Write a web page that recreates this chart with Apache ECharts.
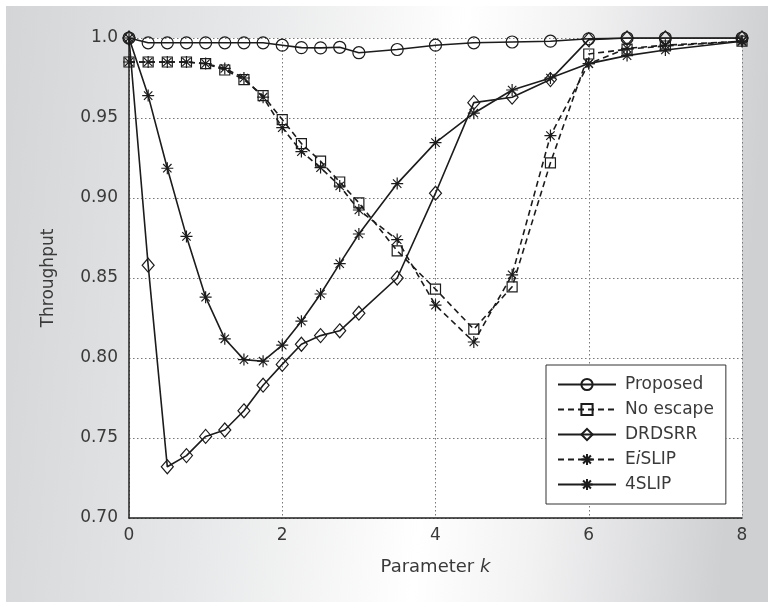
<!DOCTYPE html>
<html>
<head>
<meta charset="utf-8">
<script src="https://cdn.jsdelivr.net/npm/echarts@6/dist/echarts.min.js"></script>
<style>
  html, body { margin: 0; padding: 0; background: #fff; }
  #chart { width: 768px; height: 602px; }
</style>
</head>
<body>
<div id="chart"></div>
<script>
// x positions (parameter k)
const kValues = [0, 0.25, 0.5, 0.75, 1, 1.25, 1.5, 1.75, 2, 2.25, 2.5, 2.75, 3, 3.5, 4, 4.5, 5, 5.5, 6, 6.5, 7, 8]

const proposed = [1.0, 0.997, 0.997, 0.997, 0.997, 0.997, 0.997, 0.997, 0.9955, 0.994, 0.9938, 0.9942, 0.9908, 0.9928, 0.9955, 0.997, 0.9975, 0.998, 0.9995, 1.0, 1.0, 1.0]
const noEscape = [0.985, 0.985, 0.985, 0.985, 0.984, 0.980, 0.974, 0.964, 0.949, 0.934, 0.923, 0.910, 0.897, 0.867, 0.843, 0.818, 0.8445, 0.922, 0.990, 0.993, 0.995, 0.998]
const drdsrr = [1.0, 0.858, 0.732, 0.739, 0.751, 0.755, 0.767, 0.783, 0.796, 0.8086, 0.814, 0.817, 0.828, 0.850, 0.903, 0.9596, 0.963, 0.974, 0.999, 1.0, 1.0, 1.0]
const eislip = [0.985, 0.985, 0.985, 0.985, 0.984, 0.981, 0.975, 0.963, 0.944, 0.929, 0.919, 0.9075, 0.8925, 0.874, 0.833, 0.810, 0.852, 0.939, 0.984, 0.9935, 0.9955, 0.998]
const fourSlip = [1.0, 0.964, 0.9186, 0.876, 0.838, 0.812, 0.799, 0.798, 0.808, 0.823, 0.840, 0.859, 0.8775, 0.909, 0.9346, 0.953, 0.9675, 0.975, 0.984, 0.989, 0.9925, 0.998]

const xTicks = [0, 2, 4, 6, 8]
const yTicks = [0.70, 0.75, 0.80, 0.85, 0.90, 0.95, 1.0]

const ink = '#1c1c1c'
const textInk = '#3a3a3a'
const star = 'path://M0,-6L0,6M-6,0L6,0M-4.2,-4.2L4.2,4.2M-4.2,4.2L4.2,-4.2'
const font = '"DejaVu Sans", Verdana, sans-serif'

function pairs(ys) {
  return kValues.map((k, i) => [k, ys[i]])
}

function makeSeries(name, ys, symbol, size, dashed) {
  return {
    name,
    type: 'line',
    data: pairs(ys),
    symbol,
    symbolSize: size,
    showSymbol: true,
    lineStyle: { color: ink, width: 1.6, type: dashed ? [6, 4] : 'solid' },
    itemStyle: { color: 'rgba(0,0,0,0)', borderColor: ink, borderWidth: 1.2 },
    emphasis: { disabled: true },
    animation: false,
  }
}

const chart = echarts.init(document.getElementById('chart'))

const option = {
  backgroundColor: '#fff',
  textStyle: { fontFamily: font },
  graphic: [
    {
      type: 'rect',
      z: -10,
      shape: { x: 6, y: 6, width: 762, height: 596 },
      style: {
        fill: {
          type: 'linear', x: 0, y: 0, x2: 1, y2: 0.12,
          colorStops: [
            { offset: 0, color: '#d4d5d7' },
            { offset: 0.3, color: '#e6e7e8' },
            { offset: 0.6, color: '#ffffff' },
            { offset: 0.75, color: '#f2f2f3' },
            { offset: 1, color: '#cfd0d2' },
          ],
        },
      },
    },
  ],
  grid: {
    left: 129,
    right: 26,
    top: 38,
    bottom: 84,
    show: true,
    backgroundColor: '#fff',
    borderWidth: 0,
  },
  legend: {
    orient: 'vertical',
    left: 546,
    top: 365,
    padding: [11, 12, 11, 11],
    itemWidth: 58,
    itemHeight: 14,
    itemGap: 8,
    backgroundColor: '#fff',
    borderColor: '#333',
    borderWidth: 1,
    data: ['Proposed', 'No escape', 'DRDSRR', 'EiSLIP', '4SLIP'],
    formatter: name => (name === 'EiSLIP' ? 'E{i|i}SLIP' : name),
    textStyle: {
      color: textInk,
      fontSize: 17,
      fontFamily: font,
      padding: [0, 0, 0, 4],
      rich: {
        i: { fontStyle: 'italic', fontSize: 17, color: textInk, fontFamily: font },
      },
    },
  },
  xAxis: {
    type: 'value',
    min: 0,
    max: 8,
    interval: 2,
    name: 'Parameter {i|k}',
    nameLocation: 'middle',
    nameGap: 40,
    nameTextStyle: {
      color: textInk,
      fontSize: 18,
      fontFamily: font,
      rich: { i: { fontStyle: 'italic', fontSize: 18, color: textInk, fontFamily: font } },
    },
    axisLine: { show: true, onZero: false, lineStyle: { color: '#222', width: 1.5 } },
    axisTick: { show: false },
    axisLabel: {
      color: textInk,
      fontSize: 17,
      margin: 9,
      formatter: v => (xTicks.includes(v) ? String(v) : ''),
    },
    splitLine: { show: true, lineStyle: { color: '#777', width: 1, type: [1.5, 2.5] } },
  },
  yAxis: {
    type: 'value',
    min: 0.7,
    max: 1.0,
    interval: 0.05,
    name: 'Throughput',
    nameLocation: 'middle',
    nameRotate: 90,
    nameGap: 72,
    nameTextStyle: { color: textInk, fontSize: 17, fontFamily: font },
    axisLine: { show: true, onZero: false, lineStyle: { color: '#222', width: 1.5 } },
    axisTick: { show: false },
    axisLabel: {
      color: textInk,
      fontSize: 17,
      margin: 11,
      formatter: v => {
        const t = yTicks.find(y => Math.abs(y - v) < 1e-6)
        if (t === undefined) return ''
        return Math.abs(t - 1) < 1e-6 ? '1.0' : t.toFixed(2)
      },
    },
    splitLine: { show: true, lineStyle: { color: '#777', width: 1, type: [1.5, 2.5] } },
  },
  series: [
    makeSeries('4SLIP', fourSlip, star, 12, false),
    makeSeries('EiSLIP', eislip, star, 12, true),
    makeSeries('DRDSRR', drdsrr, 'diamond', [12, 14], false),
    makeSeries('No escape', noEscape, 'rect', 10, true),
    makeSeries('Proposed', proposed, 'circle', 12, false),
  ],
}

option && chart.setOption(option)
</script>
</body>
</html>
